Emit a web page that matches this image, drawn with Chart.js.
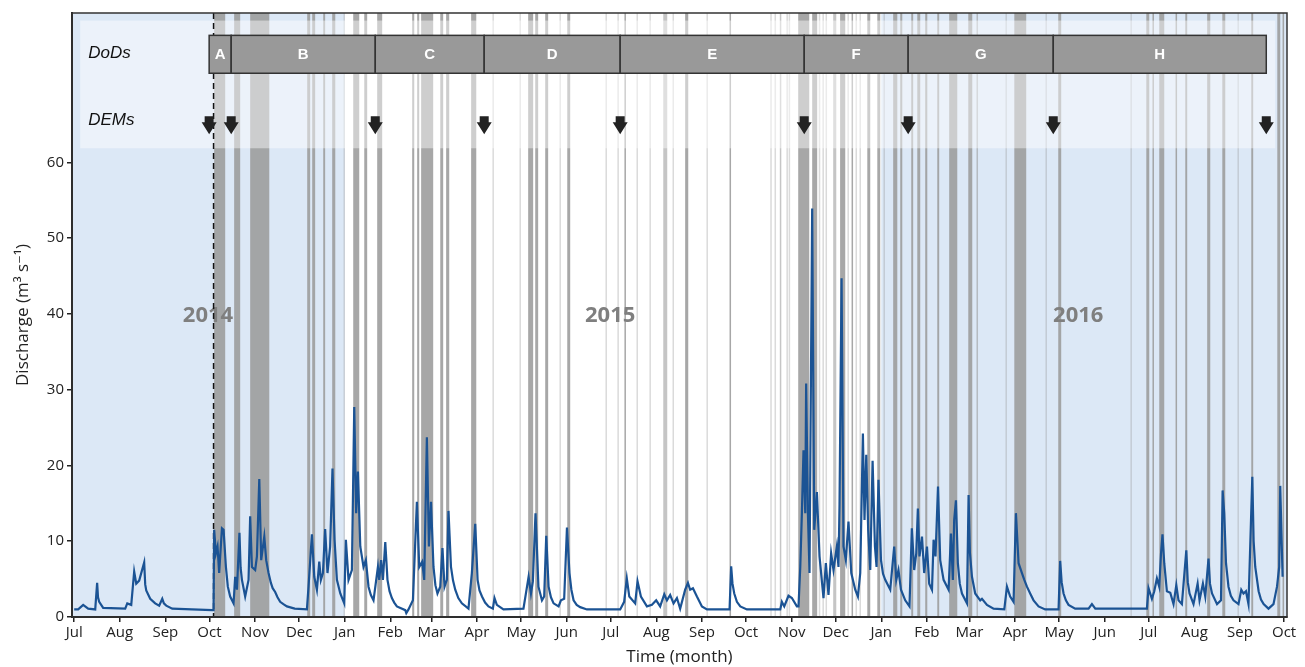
<!DOCTYPE html>
<html>
<head>
<meta charset="utf-8">
<script src="https://cdn.jsdelivr.net/npm/chart.js@4.4.1/dist/chart.umd.min.js"></script>
<style>
  html, body { margin: 0; padding: 0; background: #fff; }
</style>
</head>
<body>
<canvas id="flowChart" width="1305" height="667"></canvas>
<script>
// x values are days counted from 1 Jul 2014
var monthTickDays = [0, 31, 62, 92, 123, 153, 184, 215, 243, 274, 304, 335, 365, 396, 427, 457, 488, 518, 549, 580, 609, 640, 670, 701, 731, 762, 793, 823];
var monthLabels = ['Jul','Aug','Sep','Oct','Nov','Dec','Jan','Feb','Mar','Apr','May','Jun','Jul','Aug','Sep','Oct','Nov','Dec','Jan','Feb','Mar','Apr','May','Jun','Jul','Aug','Sep','Oct'];
var yTicks = [0, 10, 20, 30, 40, 50, 60];

// year blocks: [from, to, shaded]
var yearBlocks = [[-2, 184, true], [184, 549, false], [549, 826, true]];
var yearLabels = ['2014', '2015', '2016'];
var yearLabelDays = [91, 364.6, 683];

// DEM survey dates and the DoD letters between them
var demDays = [91.8, 106.8, 204.8, 278.9, 371.4, 496.6, 567.3, 666.0, 810.9];
var dodLetters = ['A', 'B', 'C', 'D', 'E', 'F', 'G', 'H'];
var firstEventDay = 94.8;

// rain / flow events (grey bands)
var majorEvents = [
    [95.2,102.7],[108.8,112.9],[119.7,132.7],[158.5,160.5],[161.9,163.9],[169.4,170.7],[175.5,177.6],
    [189.8,193.9],[197.3,199.3],[206.1,209.5],[229.9,231.3],[233.3,234.7],[236,244.2],[249,251],[253,255.1],
    [270,273.5],[308.8,312.2],[313.6,315.6],[320.4,322.4],[335.4,337.4],[374.3,375.3],[415.6,417.7],
    [445.8,446.8],[492.5,500],[502,505.4],[521,524.5],[528.8,529.8],[539.5,541.5],[546.3,548.3],
    [557.1,559.9],[561.9,563.3],[569.4,570.7],[573.5,575.5],[578.9,580.3],[587.1,588.4],[595.2,600.7],
    [608.2,610.9],[639.5,647.6],[669.4,671.4],[729.3,731.3],[733.5,734.5],[738.1,741.5],[749.2,750.2],
    [755.8,757.1],[770.7,772.8],[781,783],[800.7,802],[818.4,820.4],[822,823]
];
var mediumEvents = [[400.7,403.4],[516.3,518.4],[613.8,614.8],[480,481]];
var minorEvents = [183.7, 285, 303.4, 330.6, 361.9, 370, 383, 391.8, 407.5, 430.6, 474, 476.9, 485, 486.5,
    507, 509.5, 511.6, 526.5, 532, 534.7, 551, 634, 661.2, 719, 791.8];

// daily discharge (m3/s): [day, Q]
var discharge = [
    [0,1.0],[2.7,1.0],[6.1,1.6],[9.5,1.1],[14.3,1.0],[15.6,4.5],[16.2,2.6],[17.0,2.0],[19.7,1.2],[34.7,1.1],[36.1,1.8],
    [38.8,1.6],[40.8,6.0],[42.2,4.4],[44.2,4.8],[47.6,7.2],[48.3,4.3],[49.0,3.5],[51.7,2.4],[55.1,1.8],[57.8,1.5],[59.9,2.4],
    [61.0,1.8],[62.6,1.5],[66.7,1.1],[80,1.0],[93.9,0.9],[94.8,0.9],[95.2,11.5],[96.4,8.4],[97.5,9.3],[98.6,5.8],[100.5,11.7],
    [101.6,11.5],[103.2,6.6],[104.5,4.0],[106.1,2.7],[108.4,1.8],[109.5,5.3],[110.7,3.6],[112.4,11.1],[113.2,6.5],[114.1,4.9],[116.3,2.7],
    [118.6,4.9],[119.7,13.3],[120.9,6.6],[123.1,6.2],[124.3,8.0],[125.9,18.2],[127.2,7.5],[129.3,10.6],[130.6,7.5],
    [132.2,5.8],[133.8,4.5],[135.0,3.8],[136.7,3.3],[138.3,2.6],[140.1,2.0],[142.3,1.7],[144.7,1.4],[150,1.1],[158.3,1.0],[159.4,4.0],[161.7,10.9],
    [163.3,5.3],[165.1,3.6],[166.7,7.3],[167.8,4.9],[169.2,5.8],[170.7,11.6],[172.3,5.8],[174.1,9.3],[175.7,19.6],
    [177.1,10.2],[178.7,4.9],[181.0,3.1],[183.7,1.8],[184.8,10.2],[186.6,4.9],[188.9,6.2],[190.5,27.7],[191.8,13.7],
    [193.0,19.2],[194.6,9.3],[196.8,6.6],[198.4,7.5],[200.2,4.0],[201.8,2.9],[203.6,2.2],[206.6,6.6],[207.5,4.9],[208.8,7.5],
    [210.0,4.9],[211.6,9.9],[213.1,4.9],[214.5,3.4],[216.1,2.5],[217.7,1.9],[219.5,1.4],[225.2,0.9],[225.9,0.5],[227.4,1.0],[230.4,2.2],
    [233.1,15.2],[234.7,6.6],[236.7,7.3],[238.1,4.9],[239.9,23.7],[241.3,9.3],[242.7,15.2],[244.4,6.6],[245.7,4.2],[247.1,3.1],
    [249.0,4.0],[250.5,9.1],[251.9,4.0],[253.5,4.9],[254.6,14.0],[256.3,6.6],[257.7,4.8],[259.2,3.6],[261.3,2.5],[263.7,1.8],[268.2,1.1],
    [270.5,5.8],[272.8,12.3],[274.4,4.9],[275.7,3.5],[277.4,2.7],[279.5,1.9],[281.8,1.4],[284.8,1.1],[285.9,2.5],[287.5,1.6],[292.0,1.0],
    [305.6,1.1],[309.1,5.3],[310.7,3.1],[312.0,4.7],[313.8,13.7],[315.8,4.0],[318.2,2.2],[319.7,2.7],[321.1,10.7],
    [322.7,4.0],[324.3,2.6],[326.1,1.8],[329.5,1.4],[331.1,2.2],[333.3,2.4],[335.2,11.8],[336.9,5.8],[338.2,3.6],[339.7,2.2],[341.8,1.6],[344.2,1.3],
    [348.8,1.0],[371.4,1.0],[374.1,2.0],[375.9,5.1],[377.6,2.7],[381.6,1.8],[383.2,4.7],[385.5,2.7],[389.6,1.4],
    [393.0,1.6],[395.9,2.2],[398.6,1.4],[401.4,3.0],[403.2,2.2],[405.4,2.9],[407.7,1.8],[410.0,2.5],[412.2,1.1],
    [415.6,3.6],[417.5,4.5],[419.0,3.6],[420.9,3.8],[423.6,2.7],[427.0,1.4],[430.4,1.0],[445.8,1.0],[446.9,6.7],
    [447.8,4.4],[449.0,3.1],[450.8,2.0],[453.1,1.4],[457.6,1.0],[480.3,1.0],[481.4,2.0],[483.0,1.4],[485.9,2.8],[488.2,2.5],[491.6,1.4],
    [492.7,1.4],[493.9,6.6],[495.0,13.7],[496.1,22.0],[497.3,13.7],[497.9,30.8],[499.1,13.7],[500.2,5.8],[502.0,53.9],
    [503.4,11.5],[505.2,16.5],[507.0,8.0],[509.7,2.5],[511.3,7.1],[513.1,2.9],[514.9,8.4],[516.5,6.2],[518.8,9.3],
    [519.9,6.6],[520.6,14.8],[522.0,44.7],[523.3,9.3],[524.9,7.5],[526.7,12.6],[528.6,5.8],[531.3,3.6],[533.1,2.7],
    [534.7,5.8],[536.5,24.2],[537.6,12.8],[538.8,21.4],[540.1,11.5],[541.5,6.2],[543.1,20.6],[544.7,9.3],[545.8,6.6],
    [547.1,18.1],[548.8,7.5],[550.2,5.7],[551.7,4.9],[555.1,3.6],[557.8,9.3],[559.2,4.9],[560.7,6.2],[562.4,3.6],[565.3,2.2],
    [568.2,1.4],[569.8,11.7],[571.4,6.2],[572.8,8.4],[573.9,14.3],[575.0,8.0],[576.7,10.6],[578.2,5.8],[580.1,9.3],
    [581.6,4.4],[583.5,3.6],[584.6,10.2],[585.9,8.0],[587.6,17.2],[589.1,7.5],[591.4,4.9],[594.8,3.6],[596.4,11.0],
    [597.7,4.9],[598.6,12.8],[599.8,15.4],[601.1,7.1],[602.4,4.4],[603.9,3.1],[607.3,1.8],[608.4,16.1],[609.3,8.5],[610.7,5.3],[612.9,3.1],
    [616.3,2.2],[617.5,2.4],[620.9,1.6],[625.4,1.1],[632.7,1.0],[634.5,4.0],[636.7,2.7],[639.0,2.0],[640.6,13.7],
    [642.4,7.1],[644.7,5.8],[646.3,4.9],[648.1,4.0],[650.3,3.1],[652.6,2.2],[656.0,1.4],[660.5,1.0],[669.6,1.0],
    [670.7,7.4],[671.7,4.6],[673.0,3.1],[674.6,2.2],[676.4,1.6],[680.9,1.1],[690.0,1.1],[692.3,1.7],[694.6,1.1],[729.7,1.1],[730.8,3.8],
    [733.1,2.4],[734.7,3.4],[736.5,5.1],[738.1,4.0],[739.3,8.4],[740.3,10.9],[741.5,7.1],[743.3,3.4],[745.6,3.2],
    [747.8,1.7],[749.7,4.2],[751.2,2.2],[753.5,1.7],[756.5,8.8],[757.5,4.6],[758.7,3.1],[761.4,1.7],[764.2,4.4],[765.5,2.2],
    [767.8,4.4],[769.4,2.7],[771.6,7.7],[772.6,4.4],[774.0,3.1],[777.4,1.7],[780.1,2.2],[781.2,16.7],[782.3,13.7],[783.5,7.1],
    [785.2,4.0],[786.8,2.8],[788.6,2.2],[792.0,1.7],[793.9,3.6],[795.4,3.1],[797.1,3.4],[798.8,1.7],[801.4,18.5],[802.3,10.0],[803.4,6.6],
    [805.7,3.4],[807.3,2.3],[809.1,1.7],[812.4,1.1],[815.8,1.7],[818.2,4.0],[819.7,6.6],[820.4,17.3],[822.0,5.3]
];

var fontFamily = '"Open Sans", "DejaVu Sans", sans-serif';

const decorPlugin = {
    id: 'decor',
    beforeDraw(chart) {
        const ctx = chart.ctx;
        const a = chart.chartArea;
        const x = chart.scales.x;
        const y = chart.scales.y;
        const px = d => x.getPixelForValue(d);
        const py = v => y.getPixelForValue(v);

        ctx.save();
        ctx.fillStyle = '#fff';
        ctx.fillRect(0, 0, chart.width, chart.height);

        ctx.beginPath();
        ctx.rect(a.left, a.top, a.right - a.left, a.bottom - a.top);
        ctx.clip();

        // year background
        yearBlocks.forEach(b => {
            if (!b[2]) return;
            ctx.fillStyle = '#dce8f6';
            ctx.fillRect(px(b[0]), a.top, px(b[1]) - px(b[0]), a.bottom - a.top);
        });

        // events
        const band = (s, e, col) => {
            let x0 = px(s), x1 = px(e);
            if (x1 - x0 < 1.5) { const m = (x0 + x1) / 2; x0 = m - 0.75; x1 = m + 0.75; }
            ctx.fillStyle = col;
            ctx.fillRect(x0, a.top, x1 - x0, a.bottom - a.top);
        };
        minorEvents.forEach(d => band(d - 0.4, d + 0.4, 'rgba(150,150,150,0.35)'));
        mediumEvents.forEach(e => band(e[0], e[1], 'rgba(150,150,150,0.55)'));
        majorEvents.forEach(e => band(e[0], e[1], 'rgba(155,155,155,0.88)'));

        // top panel (DoDs / DEMs)
        ctx.fillStyle = 'rgba(255,255,255,0.45)';
        ctx.fillRect(px(4.1), py(78.7), px(817) - px(4.1), py(61.85) - py(78.7));

        // year labels
        ctx.fillStyle = '#7f7f7f';
        ctx.font = 'bold 22px ' + fontFamily;
        ctx.textAlign = 'center';
        ctx.textBaseline = 'middle';
        yearLabels.forEach((t, i) => ctx.fillText(t, px(yearLabelDays[i]), py(39.7)));

        // start of monitoring
        ctx.strokeStyle = '#111';
        ctx.lineWidth = 1.5;
        ctx.setLineDash([6, 4]);
        ctx.beginPath();
        ctx.moveTo(px(firstEventDay), a.top);
        ctx.lineTo(px(firstEventDay), a.bottom);
        ctx.stroke();
        ctx.setLineDash([]);

        // DoD boxes
        const bTop = py(76.75), bBot = py(71.75);
        for (let i = 0; i < dodLetters.length; i++) {
            const x0 = px(demDays[i]), x1 = px(demDays[i + 1]);
            ctx.fillStyle = '#999999';
            ctx.fillRect(x0, bTop, x1 - x0, bBot - bTop);
            ctx.strokeStyle = '#333';
            ctx.lineWidth = 1.5;
            ctx.strokeRect(x0, bTop, x1 - x0, bBot - bTop);
            ctx.fillStyle = '#fff';
            ctx.font = 'bold 15px "Liberation Sans", Arial, sans-serif';
            ctx.fillText(dodLetters[i], (x0 + x1) / 2, (bTop + bBot) / 2 + 1);
        }

        // DEM arrows
        ctx.fillStyle = '#222';
        demDays.forEach(d => {
            const cx = px(d), tip = py(63.7);
            ctx.beginPath();
            ctx.moveTo(cx - 4.5, tip - 18);
            ctx.lineTo(cx + 4.5, tip - 18);
            ctx.lineTo(cx + 4.5, tip - 12);
            ctx.lineTo(cx + 7.5, tip - 12);
            ctx.lineTo(cx, tip);
            ctx.lineTo(cx - 7.5, tip - 12);
            ctx.lineTo(cx - 4.5, tip - 12);
            ctx.closePath();
            ctx.fill();
        });

        // panel names
        ctx.fillStyle = '#111';
        ctx.font = 'italic 17px "Liberation Sans", Arial, sans-serif';
        ctx.textAlign = 'left';
        ctx.fillText('DoDs', px(9.5), py(74.4));
        ctx.fillText('DEMs', px(9.5), py(65.6));

        ctx.restore();
    },
    afterDraw(chart) {
        const a = chart.chartArea;
        const ctx = chart.ctx;
        ctx.save();
        ctx.strokeStyle = '#333';
        ctx.lineWidth = 1.5;
        ctx.strokeRect(a.left, a.top, a.right - a.left, a.bottom - a.top);
        ctx.restore();
    }
};

const ctx = document.getElementById('flowChart').getContext('2d');
new Chart(ctx, {
    type: 'line',
    data: {
        datasets: [{
            label: 'Discharge',
            data: discharge.map(p => ({ x: p[0], y: p[1] })),
            borderColor: '#1b5394',
            borderWidth: 2.2,
            pointRadius: 0,
            tension: 0,
            fill: false
        }]
    },
    options: {
        responsive: false,
        animation: false,
        layout: { padding: { top: 13, right: 18, left: 0, bottom: 0 } },
        plugins: { legend: { display: false }, tooltip: { enabled: false } },
        scales: {
            x: {
                type: 'linear',
                min: -1.5,
                max: 825,
                afterBuildTicks: s => { s.ticks = monthTickDays.map(v => ({ value: v })); },
                afterFit: s => { s.height = 50; },
                ticks: {
                    autoSkip: false,
                    maxRotation: 0,
                    padding: 2,
                    color: '#222',
                    font: { family: fontFamily, size: 15 },
                    callback: (v, i) => monthLabels[i]
                },
                grid: { display: true, drawOnChartArea: false, drawTicks: true, tickLength: 5, color: '#222', lineWidth: 1.5 },
                border: { display: true, color: '#222', width: 2 },
                title: {
                    display: true,
                    text: 'Time (month)',
                    color: '#222',
                    font: { family: fontFamily, size: 17 },
                    padding: { top: 0, bottom: 0 }
                }
            },
            y: {
                min: 0,
                max: 79.7,
                afterBuildTicks: s => { s.ticks = yTicks.map(v => ({ value: v })); },
                afterFit: s => { s.width = 72; },
                ticks: {
                    padding: 3,
                    color: '#222',
                    font: { family: fontFamily, size: 15 }
                },
                grid: { display: true, drawOnChartArea: false, drawTicks: true, tickLength: 5, color: '#222', lineWidth: 1.5 },
                border: { display: true, color: '#222', width: 2 },
                title: {
                    display: true,
                    text: 'Discharge (m³ s⁻¹)',
                    color: '#222',
                    font: { family: fontFamily, size: 17 },
                    padding: { top: 13, bottom: 0 }
                }
            }
        }
    },
    plugins: [decorPlugin]
});
</script>
</body>
</html>
